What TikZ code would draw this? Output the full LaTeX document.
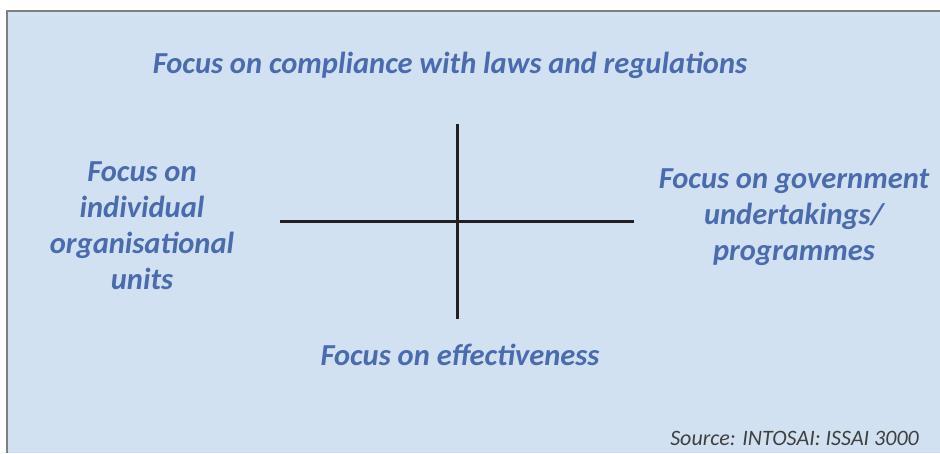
\documentclass[tikz,border=0pt]{standalone}
\usepackage{fontspec}
\setmainfont{Carlito}
\definecolor{bgblue}{HTML}{D2E1F1}
\definecolor{txtblue}{HTML}{4A6BAE}
\definecolor{framegray}{HTML}{7F7F7F}
\definecolor{axisdark}{HTML}{231F20}
\definecolor{srcgray}{HTML}{404040}
\begin{document}
\begin{tikzpicture}[x=1pt,y=-1pt,
  focus/.style={text=txtblue, font=\fontsize{30.5}{36}\selectfont\bfseries\itshape, inner sep=0pt, align=center},
  axis/.style={draw=axisdark, line width=3pt},
  source/.style={text=srcgray, font=\fontsize{22}{24}\selectfont\itshape, inner sep=0pt}]
\useasboundingbox (0,0) rectangle (940,453);
\fill[white] (0,0) rectangle (940,453);
\fill[bgblue] (7,11) rectangle (940,453);
\draw[framegray, line width=2pt] (7,453) -- (7,11) -- (940,11);
% axes
\coordinate (vtop) at (457,124);
\coordinate (vbot) at (457,319);
\coordinate (hleft) at (280,221);
\coordinate (hright) at (634,221);
\draw[axis] (vtop) -- (vbot);
\draw[axis] (hleft) -- (hright);
% labels
\node[focus, anchor=base] (top) at (450,73) {Focus on compliance with laws and regulations};
\node[focus, anchor=base] (bottom) at (460,365) {Focus on effectiveness};
\node[focus, anchor=center] (left) at (142,226) {Focus on\\individual\\organisational\\units};
\node[focus, anchor=center] (right) at (794,217) {Focus on government\\undertakings/\\programmes};
\node[source, anchor=base east] (src) at (919,445) {Source: INTOSAI: ISSAI 3000};
\end{tikzpicture}
\end{document}
